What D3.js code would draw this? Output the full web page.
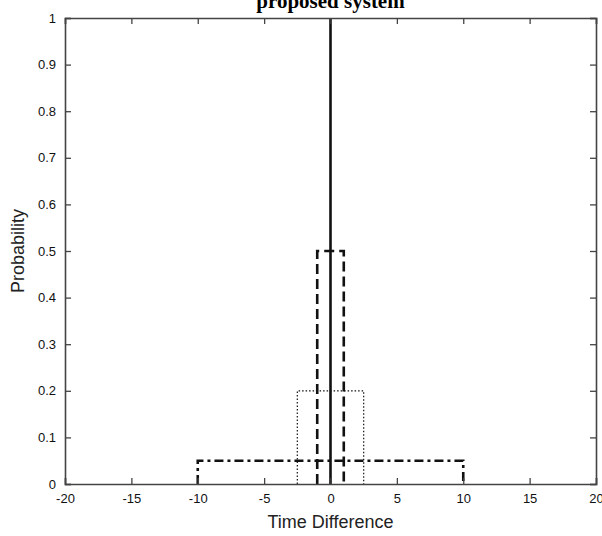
<!DOCTYPE html>
<html><head><meta charset="utf-8">
<script src="https://cdn.jsdelivr.net/npm/d3@7"></script>
<style>body{margin:0;background:#fff}svg{display:block}</style>
</head><body>
<script>
// Data
const xTicks = [-20,-15,-10,-5,0,5,10,15,20];
const yTicks = [0,0.1,0.2,0.3,0.4,0.5,0.6,0.7,0.8,0.9,1];
const yTickLabels = ["0","0.1","0.2","0.3","0.4","0.5","0.6","0.7","0.8","0.9","1"];
const solidX = [0,0], solidY = [0,1];
const dashedX = [-1,-1,1,1], dashedY = [0,0.5,0.5,0];
const dottedX = [-2.5,-2.5,2.5,2.5], dottedY = [0,0.2,0.2,0];
const dashDotX = [-10,-10,10,10], dashDotY = [0,0.05,0.05,0];
const title = "proposed system", xLabel = "Time Difference", yLabel = "Probability";

const W=602,H=536, L=65, R=596, T=18, B=484;
const svg=d3.select("body").append("svg").attr("width",W).attr("height",H);
const x=d3.scaleLinear().domain([-20,20]).range([L,R]);
const y=d3.scaleLinear().domain([0,1]).range([B,T]);
const line=d3.line().x(d=>x(d[0])).y(d=>y(d[1]));
const zip=(a,b)=>a.map((v,i)=>[v,b[i]]);

// series
const series=[
 {xs:dashDotX,ys:dashDotY,w:2.6,dash:"9,4,3,4"},
 {xs:dottedX,ys:dottedY,w:1.2,dash:"1.5,2"},
 {xs:dashedX,ys:dashedY,w:2.6,dash:"10,5"},
 {xs:solidX,ys:solidY,w:2.6,dash:null}
];
series.forEach(s=>{
  svg.append("path").attr("d",line(zip(s.xs,s.ys))).attr("fill","none")
   .attr("stroke","#111").attr("stroke-width",s.w).attr("stroke-dasharray",s.dash);
});

// axes with inward ticks
const fmtY=(d)=>yTickLabels[yTicks.indexOf(d)];
const ax=svg.append("g").attr("transform",`translate(0,${B})`)
 .call(d3.axisBottom(x).tickValues(xTicks).tickSize(-6).tickPadding(10).tickFormat(d=>d<0?"-"+Math.abs(d):d));
const ay=svg.append("g").attr("transform",`translate(${L},0)`)
 .call(d3.axisLeft(y).tickValues(yTicks).tickSize(-6).tickPadding(9).tickFormat(fmtY));
const axT=svg.append("g").attr("transform",`translate(0,${T})`)
 .call(d3.axisTop(x).tickValues(xTicks).tickSize(-6).tickFormat(""));
const ayR=svg.append("g").attr("transform",`translate(${R},0)`)
 .call(d3.axisRight(y).tickValues(yTicks).tickSize(-6).tickFormat(""));
[ax,ay,axT,ayR].forEach(g=>{
  g.select(".domain").attr("stroke","#444").attr("stroke-width",1.6);
  g.selectAll(".tick line").attr("stroke","#444").attr("stroke-width",1.3);
  g.selectAll("text").attr("font-family","Liberation Sans, Arial, sans-serif").attr("font-size",13).attr("fill","#111");
});
ay.selectAll(".tick text").attr("dy","0.32em");

svg.append("text").attr("x",(L+R)/2).attr("y",8).attr("text-anchor","middle")
 .attr("font-family","Liberation Serif, Times New Roman, serif").attr("font-weight","bold").attr("font-size",21).text(title);
svg.append("text").attr("x",(L+R)/2).attr("y",528).attr("text-anchor","middle")
 .attr("font-family","Liberation Sans, Arial, sans-serif").attr("font-size",18).attr("fill","#222").text(xLabel);
svg.append("text").attr("transform",`translate(24,${(T+B)/2}) rotate(-90)`).attr("text-anchor","middle")
 .attr("font-family","Liberation Sans, Arial, sans-serif").attr("font-size",18).attr("fill","#222").text(yLabel);
</script>
</body></html>
